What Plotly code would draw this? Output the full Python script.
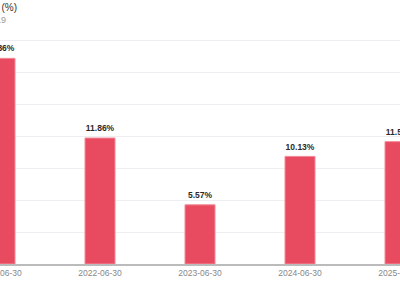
import plotly.graph_objects as go

categories = ["2021-06-30", "2022-06-30", "2023-06-30", "2024-06-30", "2025-06-30"]
values = [19.36, 11.86, 5.57, 10.13, 11.52]
labels = ["19.36%", "11.86%", "5.57%", "10.13%", "11.52%"]

fig = go.Figure()
fig.add_trace(go.Bar(
    x=categories, y=values,
    marker=dict(color="#E84B60", line=dict(color="#F28896", width=1)),
    width=0.3, hoverinfo="skip",
))
fig.add_trace(go.Scatter(
    x=categories, y=values, text=labels, mode="markers+text",
    marker=dict(size=6, opacity=0),
    textposition="top center", cliponaxis=False,
    textfont=dict(family="Liberation Sans, Arial", size=8.5, color="#2a2a2a",
                  weight="bold"),
))

fig.update_layout(
    width=400, height=300,
    margin=dict(l=0, r=0, t=25, b=36, autoexpand=False),
    paper_bgcolor="white", plot_bgcolor="white",
    showlegend=False,
    font=dict(family="Liberation Sans, Arial"),
    xaxis=dict(type="category", range=[0, 4], showgrid=False, automargin=False,
               showline=True, linecolor="#BBBBBB", linewidth=1.5,
               ticks="", ticklen=0, tickfont=dict(size=8.5, color="#888888")),
    yaxis=dict(range=[0, 22.5], dtick=3, showticklabels=False, automargin=False,
               gridcolor="#EEEEF2", gridwidth=1, zeroline=False),
    annotations=[
        dict(text="ROE (%)", xref="paper", yref="paper", x=19/400, y=1,
             yshift=25, xanchor="right", yanchor="top", showarrow=False,
             font=dict(size=10, color="#333333")),
        dict(text="2019", xref="paper", yref="paper", x=8/400, y=1,
             yshift=12, xanchor="right", yanchor="top", showarrow=False,
             font=dict(size=9, color="#999999")),
    ],
)

fig.write_html("out.html")
